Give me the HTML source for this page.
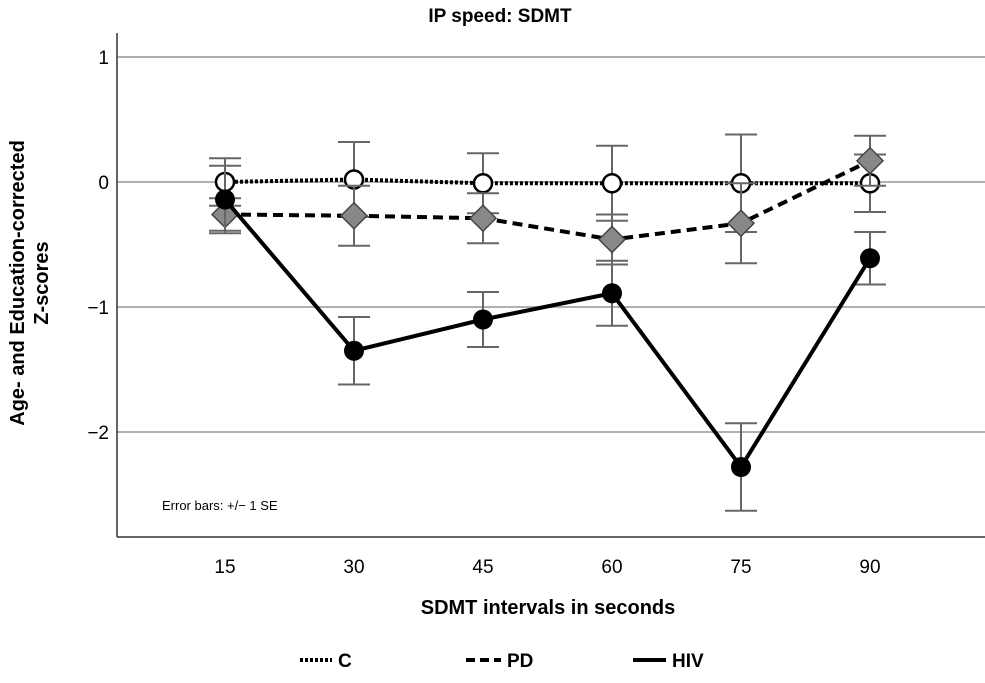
<!DOCTYPE html>
<html><head><meta charset="utf-8"><style>
body{margin:0;background:#fff;}
svg text{font-family:"Liberation Sans","DejaVu Sans",sans-serif;}
</style></head><body>
<svg id="chart" width="985" height="678" viewBox="0 0 985 678">
<text x="500" y="22" text-anchor="middle" font-size="19" font-weight="bold">IP speed: SDMT</text>
<g id="grid"></g><g id="axes"></g><g id="series"></g>
<text x="162" y="510" font-size="13">Error bars: +/− 1 SE</text>
<text x="548" y="614" text-anchor="middle" font-size="20" font-weight="bold">SDMT intervals in seconds</text>
<text transform="translate(24,283) rotate(-90)" text-anchor="middle" font-size="20" font-weight="bold"><tspan x="0" dy="0">Age- and Education-corrected</tspan><tspan x="0" dy="24">Z-scores</tspan></text>
<g>
<g><line x1="300" y1="660" x2="332" y2="660" stroke="#000" stroke-width="4" stroke-dasharray="3,2"/><text x="338" y="667" font-size="19" font-weight="bold">C</text></g>
<g><line x1="466" y1="660" x2="501" y2="660" stroke="#000" stroke-width="4" stroke-dasharray="9,5"/><text x="507" y="667" font-size="19" font-weight="bold">PD</text></g>
<g><line x1="633" y1="660" x2="666" y2="660" stroke="#000" stroke-width="4"/><text x="672" y="667" font-size="19" font-weight="bold">HIV</text></g>
</g>
</svg>
<script>
const categories=[15,30,45,60,75,90];
const cMean=[0,0.02,-0.01,-0.01,-0.01,-0.01];
const cSE=[0.19,0.3,0.24,0.3,0.39,0.23];
const pdMean=[-0.26,-0.27,-0.29,-0.46,-0.33,0.17];
const pdSE=[0.13,0.24,0.2,0.2,0.32,0.2];
const hivMean=[-0.14,-1.35,-1.1,-0.89,-2.28,-0.61];
const hivSE=[0.27,0.27,0.22,0.26,0.35,0.21];
const yTicks=[1,0,-1,-2];
const yTickLabels=["1","0","−1","−2"];
const NS="http://www.w3.org/2000/svg";
const X0=117,X1=985,Y0=33,Y1=537;
function xs(i){return 225+i*129;}
function ys(v){return 182-v*125;}
function mk(tag,attrs,parent){const e=document.createElementNS(NS,tag);for(const k in attrs)e.setAttribute(k,attrs[k]);document.getElementById(parent).appendChild(e);return e;}
yTicks.forEach((t,i)=>{
 const l=mk('line',{x1:X0,x2:X1,y1:ys(t),y2:ys(t),stroke:'#b0b0b0','stroke-width':2},'grid');
 
 
 const tx=mk('text',{x:X0-8,y:ys(t)+7,'text-anchor':'end','font-size':19},'axes');
 tx.textContent=yTickLabels[i];
 
 
});
const ya=mk('line',{x1:X0,x2:X0,y1:Y0,y2:Y1,stroke:'#333','stroke-width':1.5},'axes');


const xa=mk('line',{x1:X0,x2:X1,y1:Y1,y2:Y1,stroke:'#333','stroke-width':1.5},'axes');


categories.forEach((c,i)=>{
 const tx=mk('text',{x:xs(i),y:573,'text-anchor':'middle','font-size':19},'axes');
 tx.textContent=c;
 
 
});
function series(name,mean,se,dash,marker){
 // error bars
 mean.forEach((m,i)=>{
  const x=xs(i),a=ys(m+se[i]),b=ys(m-se[i]);
  const g=mk('path',{d:`M${x-16},${a}H${x+16}M${x},${a}V${b}M${x-16},${b}H${x+16}`,stroke:'#666','stroke-width':2,fill:'none'},'series');
  
  
 });
 const pts=mean.map((m,i)=>xs(i)+','+ys(m)).join(' ');
 const l=mk('polyline',{points:pts,fill:'none',stroke:'#000','stroke-width':4,'stroke-dasharray':dash},'series');
 
 
 mean.forEach((m,i)=>{
  const x=xs(i),y=ys(m);let p;
  if(marker==='open')p=mk('circle',{cx:x,cy:y,r:9,fill:'#fff',stroke:'#000','stroke-width':2.5},'series');
  else if(marker==='diamond')p=mk('path',{d:`M${x},${y-13}L${x+13},${y}L${x},${y+13}L${x-13},${y}Z`,fill:'#888',stroke:'#444','stroke-width':1.5},'series');
  else p=mk('circle',{cx:x,cy:y,r:10,fill:'#000'},'series');
  
  
 });
}
series('c',cMean,cSE,'3,2','open');
series('pd',pdMean,pdSE,'10,6','diamond');
series('hiv',hivMean,hivSE,'','filled');
</script>
</body></html>
